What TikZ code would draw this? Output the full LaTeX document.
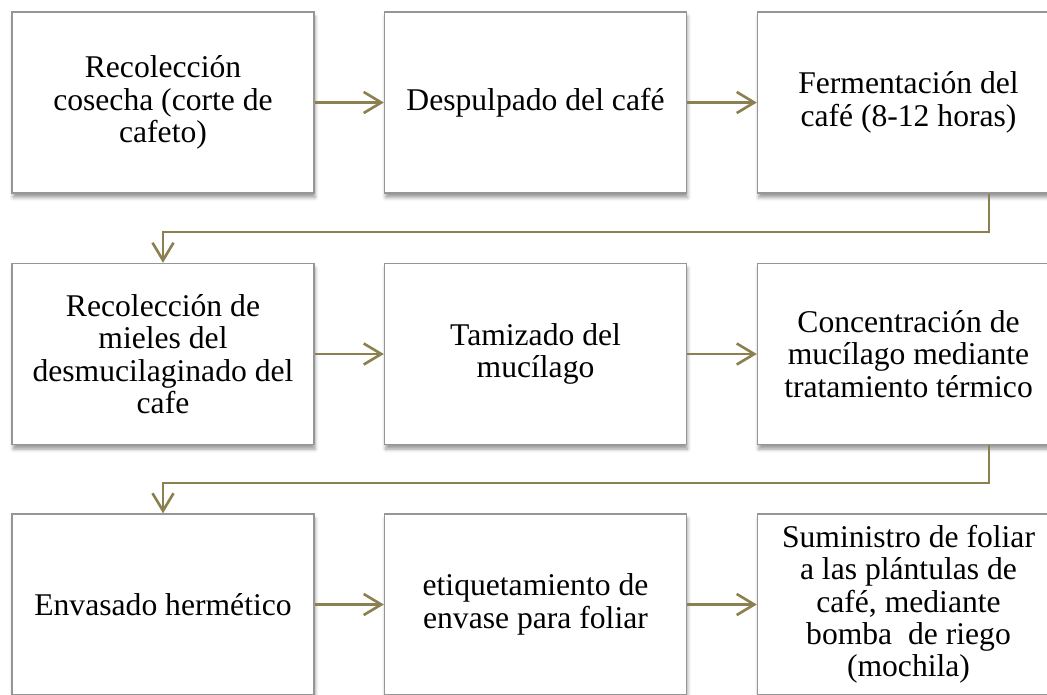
\documentclass[tikz,border=0pt]{standalone}
\usepackage{fontspec}
\setmainfont{Liberation Serif}
\usetikzlibrary{arrows.meta,shadows.blur}
\definecolor{olivearrow}{RGB}{140,128,80}
\definecolor{boxline}{RGB}{150,150,150}
\begin{document}
\begin{tikzpicture}[x=0.02cm,y=-0.02cm,
  stage/.style={draw=boxline,line width=0.8pt,fill=white,
    minimum width=6.04cm,minimum height=3.62cm,align=center,
    font=\fontsize{18}{18.4}\selectfont,
    blur shadow={shadow xshift=0.6pt,shadow yshift=-2.6pt,
      shadow blur radius=2pt,shadow opacity=40}},
  flow/.style={draw=olivearrow,line width=1.5pt,
    -{Straight Barb[length=10pt,width=12pt,line width=1.5pt]}}]
\path[use as bounding box,clip] (0,0) rectangle (1047,694);
% first row
\node[stage] (b1) at (163,102.5) {Recolección\\cosecha (corte de\\cafeto)};
\node[stage] (b2) at (535.5,102.5) {Despulpado del café};
\node[stage] (b3) at (908.5,102.5) {Fermentación del\\café (8-12 horas)};
% second row
\node[stage] (b4) at (163,354) {Recolección de\\mieles del\\desmucilaginado del\\cafe};
\node[stage] (b5) at (535.5,354) {Tamizado del\\mucílago};
\node[stage] (b6) at (908.5,354) {Concentración de\\mucílago mediante\\tratamiento térmico};
% third row
\node[stage] (b7) at (163,604.5) {Envasado hermético};
\node[stage] (b8) at (535.5,604.5) {etiquetamiento de\\envase para foliar};
\node[stage] (b9) at (908.5,604.5) {Suministro de foliar\\a las plántulas de\\café, mediante\\bomba~ de riego\\(mochila)};
% bends between rows
\coordinate (k1) at (989,232);
\coordinate (k2) at (989,483);
\draw[flow] (b1) -- (b2);
\draw[flow] (b2) -- (b3);
\draw[flow] (b3.south -| k1) -- (k1) -| (b4.north);
\draw[flow] (b4) -- (b5);
\draw[flow] (b5) -- (b6);
\draw[flow] (b6.south -| k2) -- (k2) -| (b7.north);
\draw[flow] (b7) -- (b8);
\draw[flow] (b8) -- (b9);
\end{tikzpicture}
\end{document}
